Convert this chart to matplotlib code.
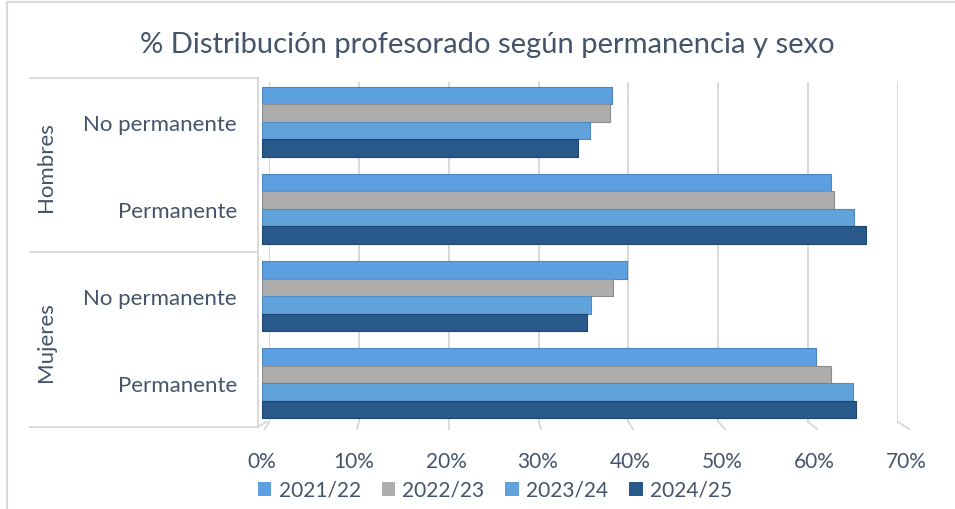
import matplotlib
matplotlib.use('Agg')
import matplotlib.pyplot as plt
from matplotlib.lines import Line2D
from matplotlib.patches import Rectangle
import numpy as np

# ---------------- data ----------------
groups = ['Hombres', 'Mujeres']
categories = ['No permanente', 'Permanente', 'No permanente', 'Permanente']
series = ['2021/22', '2022/23', '2023/24', '2024/25']
v2122 = [38.0, 61.9, 39.7, 60.2]
v2223 = [37.8, 62.2, 38.1, 61.9]
v2324 = [35.6, 64.3, 35.8, 64.2]
v2425 = [34.3, 65.6, 35.3, 64.6]
xticks = [0, 10, 20, 30, 40, 50, 60, 70]
xticklabels = ['0%', '10%', '20%', '30%', '40%', '50%', '60%', '70%']
title = '% Distribución profesorado según permanencia y sexo'

colors = ['#5DA0E2', '#ADADAD', '#62A2DA', '#28598A']
edges = ['#4A86C0', '#8C8C8C', '#4F8BC2', '#1E4670']
text_color = '#44546A'
line_color = '#D9D9D9'
FONT = 'Lato'

W, H = 955, 510
fig = plt.figure(figsize=(W / 100, H / 100), dpi=100)
fig.patch.set_facecolor('white')


def fx(px):
    return px / W


def fy(py):
    return 1 - py / H


def fig_line(x0, y0, x1, y1, **kw):
    fig.add_artist(Line2D([fx(x0), fx(x1)], [fy(y0), fy(y1)],
                          transform=fig.transFigure, **kw))


# chart border (top / left)
fig_line(7, 3, 955, 3, color=line_color, lw=1.5)
fig_line(7, 3, 7, 510, color=line_color, lw=1.5)

# back wall gridlines
axb = fig.add_axes([fx(269), fy(423), fx(898) - fx(269), fy(83) - fy(423)])
axb.set_xlim(0, 70)
axb.set_ylim(0, 1)
axb.axis('off')
for t in xticks:
    axb.axvline(t, color=line_color, lw=1.4)

# front axes with bars
ax = fig.add_axes([fx(262), fy(428), fx(906) - fx(262), fy(79) - fy(428)])
ax.patch.set_alpha(0)
ax.set_xlim(0, 70)
ax.set_ylim(3.5, -0.5)
for s in ax.spines.values():
    s.set_visible(False)

values = [v2122, v2223, v2324, v2425]
bh = 0.2
ypos = np.arange(len(categories))
for i, (vals, c, e) in enumerate(zip(values, colors, edges)):
    ax.barh(ypos - 0.3 + i * bh, vals, height=bh, color=c, edgecolor=e,
            linewidth=0.8, label=series[i], zorder=3)

ax.set_xticks(xticks)
ax.set_xticklabels(xticklabels, fontsize=15, color=text_color, family=FONT)
ax.tick_params(axis='x', length=0, pad=17)
ax.set_yticks(ypos)
ax.set_yticklabels(categories, fontsize=16, color=text_color, family=FONT)
ax.tick_params(axis='y', length=0, pad=18)

# gridline feet (back wall to front floor)
for t in xticks:
    xb, _ = axb.transData.transform((t, 0))
    xf, _ = ax.transData.transform((t, 3.5))
    fig_line(xb, 423, xf + 3, 430, color=line_color, lw=1.4)

# category axis structure
fig_line(30, 79, 258, 79, color=line_color, lw=1.4)
fig_line(30, 253, 258, 253, color=line_color, lw=1.4)
fig_line(30, 428, 258, 428, color=line_color, lw=1.4)
fig_line(258, 79, 258, 428, color=line_color, lw=1.4)
fig_line(258, 428, 266, 423, color=line_color, lw=1.4)

# group labels
fig.text(fx(46), fy(167), groups[0], rotation=90, ha='center', va='center',
         fontsize=16, color=text_color, family=FONT)
fig.text(fx(46), fy(342), groups[1], rotation=90, ha='center', va='center',
         fontsize=16, color=text_color, family=FONT)

# title
fig.text(fx(487), fy(45), title, ha='center', va='center', fontsize=21,
         color=text_color, family=FONT)

# legend
handles = [Rectangle((0, 0), 1, 1, facecolor=c, edgecolor='none') for c in colors]
leg = fig.legend(handles, series, loc='center', bbox_to_anchor=(fx(495), fy(491)),
                 ncol=4, frameon=False, handlelength=0.65, handleheight=0.65,
                 handletextpad=0.35, columnspacing=1.0,
                 prop={'family': FONT, 'size': 15})
for t in leg.get_texts():
    t.set_color(text_color)

fig.savefig('out.png', dpi=100, facecolor='white')
